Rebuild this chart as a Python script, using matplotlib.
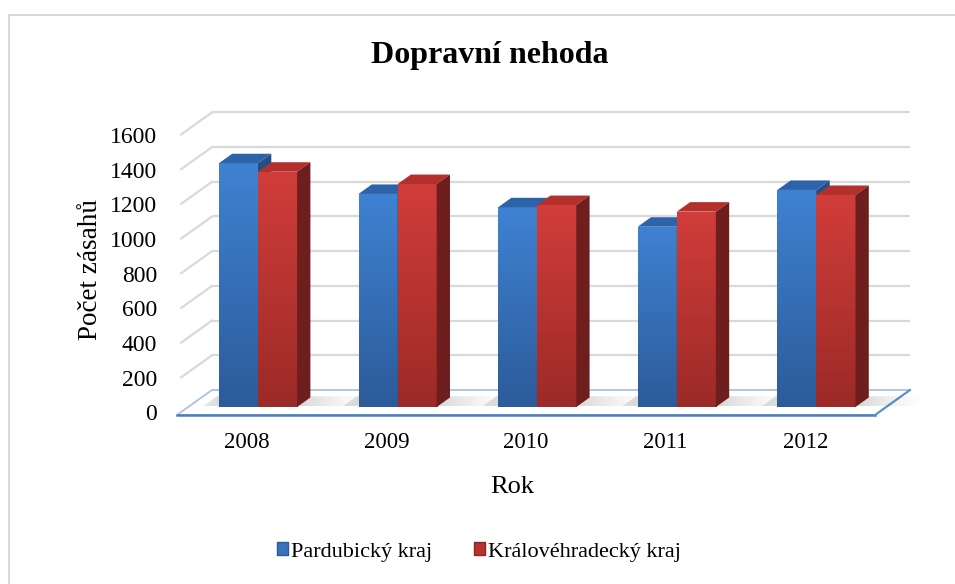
import matplotlib.pyplot as plt
import numpy as np
from matplotlib.colors import to_rgb
from matplotlib.patches import Polygon, Rectangle, Patch
from matplotlib.transforms import offset_copy

# data
roky = ['2008', '2009', '2010', '2011', '2012']
pardubicky = [1405, 1228, 1151, 1039, 1251]
kralovehradecky = [1356, 1285, 1164, 1126, 1222]
y_ticks = [0, 200, 400, 600, 800, 1000, 1200, 1400, 1600]

plt.rcParams['font.family'] = ['Liberation Serif', 'DejaVu Serif']

W, H = 955, 584
fig = plt.figure(figsize=(W / 100, H / 100), dpi=100)
ax = fig.add_axes([0, 0, 1, 1])
ax.axis('off')

# pixel layout of the fake 3D plot area
x0_px, step_px = 246.8, 139.6      # category 0 centre on the front edge, category spacing
y0_px, unit_px = 415.0, 277.6 / 1600  # floor front edge, pixels per value unit
DX = 35 / step_px                   # depth shift (category units)
DY = 25 / unit_px                   # depth shift (value units)
XMIN, XMAX = -0.5, 4.5


def P(c, v, d):
    return (c + d * DX, v + d * DY)


grid_col = '#d9d9d9'
# back wall gridlines + left wall diagonals
for v in y_ticks[1:]:
    ax.plot([P(XMIN, v, 1)[0], P(XMAX, v, 1)[0]], [P(XMIN, v, 1)[1]] * 2,
            color=grid_col, lw=1.6, zorder=1, solid_capstyle='butt')
    ax.plot([P(XMIN, v, 0.12)[0], P(XMIN, v, 1)[0]], [P(XMIN, v, 0.12)[1], P(XMIN, v, 1)[1]],
            color=grid_col, lw=1.6, zorder=1)

# floor
floor = Polygon([P(XMIN, 0, 0), P(XMAX, 0, 0), P(XMAX, 0, 1), P(XMIN, 0, 1)],
                closed=True, facecolor='white', edgecolor='#a9c3e3', lw=1.3, zorder=2)
ax.add_patch(floor)
ax.plot([XMIN, XMAX], [0, 0], color='#4a7ebb', lw=1.8, zorder=3)
ax.plot([XMAX, P(XMAX, 0, 1)[0]], [0, P(XMAX, 0, 1)[1]], color='#5b8fd0', lw=1.5, zorder=3)

bw = 0.28
d0, d1 = 0.32, 0.70
series = [
    (pardubicky, -bw, ('#3f82d2', '#2c5b9a'), '#2d63a9', '#244f86'),
    (kralovehradecky, 0.0, ('#d13d3a', '#9c2a27'), '#b3302d', '#6e1f1d'),
]

grad = np.linspace(0, 1, 100).reshape(-1, 1)


def gradient_fill(clip, extent, img, z):
    im = ax.imshow(img, extent=extent, origin='upper', aspect='auto',
                   zorder=z, interpolation='bilinear')
    im.set_clip_path(clip)


def draw_bar(xl, h, front_cols, top_col, side_col, z):
    xr = xl + bw
    fx, fy = P(xl, 0, d0)
    rect = Rectangle((fx, fy), bw, h, transform=ax.transData,
                     facecolor='none', edgecolor='none', zorder=z)
    ax.add_patch(rect)
    c_top = np.array(to_rgb(front_cols[0]))
    c_bot = np.array(to_rgb(front_cols[1]))
    img = c_top[None, None, :] * (1 - grad[:, :, None]) + c_bot[None, None, :] * grad[:, :, None]
    gradient_fill(rect, [fx, fx + bw, fy, fy + h], img, z)
    ax.add_patch(Polygon([P(xl, h, d0), P(xr, h, d0), P(xr, h, d1), P(xl, h, d1)],
                         closed=True, facecolor=top_col, edgecolor='none', zorder=z))
    ax.add_patch(Polygon([P(xr, 0, d0), P(xr, h, d0), P(xr, h, d1), P(xr, 0, d1)],
                         closed=True, facecolor=side_col, edgecolor='none', zorder=z))


# soft shadow image: dark near the bars, fading out to both sides
ramp = np.linspace(0, 1, 200)
shadow_img = np.zeros((1, 200, 4))
shadow_img[0, :, :3] = 0.3
shadow_img[0, :, 3] = 0.4 * np.clip(1 - np.abs(ramp - 0.35) / 0.65, 0, 1) ** 1.4

for i in range(len(roky)):
    z = 10 + i * 3
    sl, sr = i - bw - 0.12, i + bw + 0.42
    sd0, sd1 = d0 + 0.02, d1 + 0.05
    shp = Polygon([P(sl, 0, sd0), P(sr, 0, sd0), P(sr, 0, sd1), P(sl, 0, sd1)],
                  closed=True, transform=ax.transData, facecolor='none', edgecolor='none')
    ax.add_patch(shp)
    ext = [P(sl, 0, sd0)[0], P(sr, 0, sd1)[0], P(sl, 0, sd0)[1], P(sl, 0, sd1)[1]]
    gradient_fill(shp, ext, shadow_img, z)
    for vals, off, fc, tc, sc in series:
        z += 1
        draw_bar(i + off, vals[i], fc, tc, sc, z)

ax.set_xlim(-x0_px / step_px, (W - x0_px) / step_px)
ax.set_ylim((y0_px - H) / unit_px, y0_px / unit_px)

# tick labels
tr_x = offset_copy(ax.transData, fig=fig, x=0, y=-27, units='dots')
for i, r in enumerate(roky):
    ax.text(i, 0, r, transform=tr_x, ha='center', va='center', fontsize=16.5)
tr_y = offset_copy(ax.transData, fig=fig, x=-20, y=0, units='dots')
for v in y_ticks:
    ax.text(XMIN, v, str(v), transform=tr_y, ha='right', va='center', fontsize=17)

fig.text(489.5 / W, 1 - 55 / H, 'Dopravní nehoda', ha='center', va='center',
         fontsize=23, fontweight='bold')
fig.text(90 / W, 1 - 270 / H, 'Počet zásahů', ha='center', va='center',
         rotation=90, fontsize=19.5)
fig.text(512 / W, 1 - 487 / H, 'Rok', ha='center', va='center', fontsize=19)

handles = [Patch(facecolor='#3a72bb', edgecolor='#2c5b9a', label='Pardubický kraj'),
           Patch(facecolor='#b83230', edgecolor='#8a2523', label='Královéhradecký kraj')]
fig.legend(handles=handles, loc='center', bbox_to_anchor=(479 / W, 1 - 552 / H),
           ncol=2, frameon=False, fontsize=16, handlelength=0.5, handleheight=0.5,
           handletextpad=0.12, columnspacing=1.9)

# chart frame (only top and left edges visible)
fig.add_artist(Rectangle((9 / W, -0.1), 1.2, 1 - 15 / H + 0.1, transform=fig.transFigure,
                         facecolor='none', edgecolor='#d9d9d9', lw=1.5))

fig.savefig('out.png', dpi=100)
